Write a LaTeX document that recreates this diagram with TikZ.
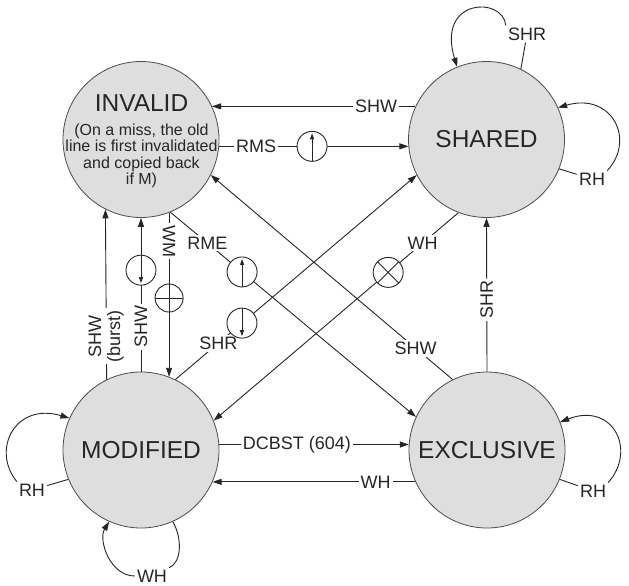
\documentclass[tikz,border=0pt]{standalone}
\usepackage{fontspec}
\setmainfont{Liberation Sans}
\usetikzlibrary{arrows.meta}
\begin{document}
\begin{tikzpicture}[x=1pt,y=-1pt,
  state/.style={circle, draw=black!70, line width=0.8pt, fill=black!13, minimum size=156pt, inner sep=0pt, font=\fontsize{24.5}{28}\selectfont, text=black!85},
  lbl/.style={fill=white, inner sep=2pt, font=\fontsize{18}{19}\selectfont, text=black!85},
  conn/.style={draw=black!85, line width=0.9pt},
  arr/.style={conn, -{Triangle[length=9pt,width=6pt]}},
  busop/.style={circle, draw=black!85, line width=0.9pt, fill=white, minimum size=30pt, inner sep=0pt},
  busup/.style={busop, path picture={\draw[line width=0.9pt,-{Triangle[length=6pt,width=4pt]}] (path picture bounding box.south) -- ([yshift=-2pt]path picture bounding box.north);}},
  busdown/.style={busop, path picture={\draw[line width=0.9pt,-{Triangle[length=6pt,width=4pt]}] (path picture bounding box.north) -- ([yshift=2pt]path picture bounding box.south);}},
  busplus/.style={busop, minimum size=28pt, path picture={\draw[line width=0.9pt,-] (path picture bounding box.north) -- (path picture bounding box.south) (path picture bounding box.west) -- (path picture bounding box.east);}},
  buscross/.style={busop, path picture={\draw[line width=0.9pt,-] (path picture bounding box.north west) -- (path picture bounding box.south east) (path picture bounding box.north east) -- (path picture bounding box.south west);}},
]
\useasboundingbox[fill=white] (0,0) rectangle (629,586);

% states
\node[state] (inv) at (141,139.5) {};
\node[state] (sha) at (486.5,139.5) {SHARED};
\node[state] (mod) at (141,450) {MODIFIED};
\node[state] (exc) at (487,450) {EXCLUSIVE};

\node[font=\fontsize{24.5}{28}\selectfont, text=black!85, anchor=base] (invt) at (141.5,111.7) {INVALID};
\node[font=\fontsize{16}{15.7}\selectfont, text=black!85, anchor=base, inner sep=0pt] (invn) at (141.5,135.5)
  {\begin{tabular}[t]{@{}c@{}}(On a miss, the old\\line is first invalidated\\and copied back\\if M)\end{tabular}};

% transitions
\draw[arr] (sha.155) -- node[lbl,pos=0.193] (lSHW1) {SHW} (inv.25);
\draw[arr] (inv.-5) -- node[lbl,pos=0.196] (lRMS) {RMS} node[busup,pos=0.491] (bRMS) {} (sha.185);
\draw[arr] (mod.116.7) -- node[lbl,pos=0.254,rotate=90,align=center] (lSHWb) {SHW\\(burst)} (inv.243.3);
\draw[arr] (mod.north) -- node[lbl,pos=0.291,rotate=90] (lSHW2) {SHW} node[busdown,pos=0.66] (bSHW2) {} (inv.south);
\draw[arr] (inv.291) -- node[lbl,pos=0.174,rotate=-90] (lWM) {WM} node[busplus,pos=0.52] (bWM) {} (mod.69);
\draw[arr] (inv.-68) -- node[lbl,pos=0.151] (lRME) {RME} node[busup,pos=0.292] (bRME) {} (exc.155);
\draw[arr] (mod.64) -- node[lbl,pos=0.178] (lSHR1) {SHR} node[busdown,pos=0.276] (bSHR1) {} (sha.207);
\draw[arr] (sha.249.4) -- node[lbl,pos=0.146] (lWH1) {WH} node[buscross,pos=0.287] (bWH1) {} (mod.22.9);
\draw[arr] (exc.116) -- node[lbl,pos=0.153] (lSHW3) {SHW} (inv.-27);
\draw[arr] (exc.north) -- node[lbl,pos=0.468,rotate=90] (lSHR2) {SHR} (sha.south);
\draw[arr] (mod.4) -- node[lbl,pos=0.41] (lDC) {DCBST (604)} (exc.176);
\draw[arr] (exc.204) -- node[lbl,pos=0.196] (lWH2) {WH} (mod.-24);

% self loops
\node[lbl] (lSHR3) at (527,34) {SHR};
\draw[conn] (sha.64) -- (lSHR3);
\draw[arr] (lSHR3.north west) .. controls (503,-4) and (436,-2) .. (sha.112);

\node[lbl] (lRH1) at (592,179) {RH};
\draw[conn] (sha.-22) -- (lRH1);
\draw[arr] (lRH1.north east) .. controls (636,140) and (612,92) .. (sha.24);

\node[lbl] (lRH2) at (593,491) {RH};
\draw[conn] (exc.-22) -- (lRH2);
\draw[arr] (lRH2.north east) .. controls (637,450) and (613,402) .. (exc.21);

\node[lbl] (lRH3) at (32,490) {RH};
\draw[conn] (mod.202) -- (lRH3);
\draw[arr] (lRH3.north west) .. controls (-9,450) and (15,402) .. (mod.156);

\node[lbl] (lWH3) at (152,576) {WH};
\draw[conn] (mod.-66) .. controls (183,540) and (181,563) .. (lWH3.north east);
\draw[arr] (lWH3.west) .. controls (110,576) and (98,540) .. (mod.246);
\end{tikzpicture}
\end{document}
